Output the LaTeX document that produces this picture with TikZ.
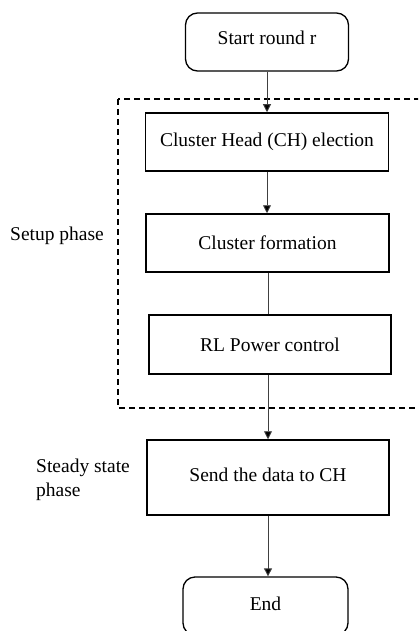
\documentclass[tikz,border=0pt]{standalone}
\usepackage{fontspec}
\setmainfont{Liberation Serif}
\usetikzlibrary{arrows.meta}
\begin{document}
\begin{tikzpicture}[x=1pt,y=-1pt,
  font=\fontsize{19.5}{24}\selectfont,
  term/.style={draw=black,line width=1.3pt,rounded corners=12pt,minimum width=163pt,minimum height=58pt,inner sep=0pt},
  proc/.style={draw=black,line width=1.5pt,minimum width=243pt,minimum height=58pt,inner sep=0pt},
  link/.style={draw=black!75,line width=0.9pt},
  arr/.style={link,-{Triangle[width=8pt,length=8pt,fill=black]}},
  phase/.style={draw=black,line width=1.3pt,dash pattern=on 6pt off 4pt}]
\clip (0,0) rectangle (418,631);
\useasboundingbox (0,0) rectangle (418,631);
\fill[white] (0,0) rectangle (418,631);

% setup-phase frame
\draw[phase] (118,99) rectangle (440,408);

% flow steps
\node[term] (start) at (267,42) {\raisebox{8pt}{Start round r}};
\node[proc] (elect) at (267,142) {Cluster Head (CH) election};
\node[proc] (form) at (267.5,243) {Cluster formation};
\node[proc,minimum width=242pt,minimum height=59pt] (power) at (270,344.5) {RL Power control};
\node[proc,minimum width=242pt,minimum height=75pt] (send) at (268,477.5) {\raisebox{5pt}{Send the data to CH}};
\node[term,minimum width=165pt] (end) at (265.5,606) {\raisebox{4pt}{End}};

% phase labels
\node[anchor=west,inner sep=0pt] (setup) at (10,236) {Setup phase};
\node[anchor=west,inner sep=0pt,align=left] (steady) at (36,480) {Steady state\\phase};

% connectors
\draw[arr] (start.south) -- (start.south |- elect.north);
\draw[arr] (elect.south) -- (elect.south |- form.north);
\draw[link] ([xshift=0.5pt]form.south) -- ([xshift=0.5pt]form.south |- power.north);
\draw[arr] ([xshift=-2pt]power.south) -- ([xshift=-2pt]power.south |- send.north);
\draw[arr] (send.south) -- (send.south |- end.north);
\end{tikzpicture}
\end{document}
